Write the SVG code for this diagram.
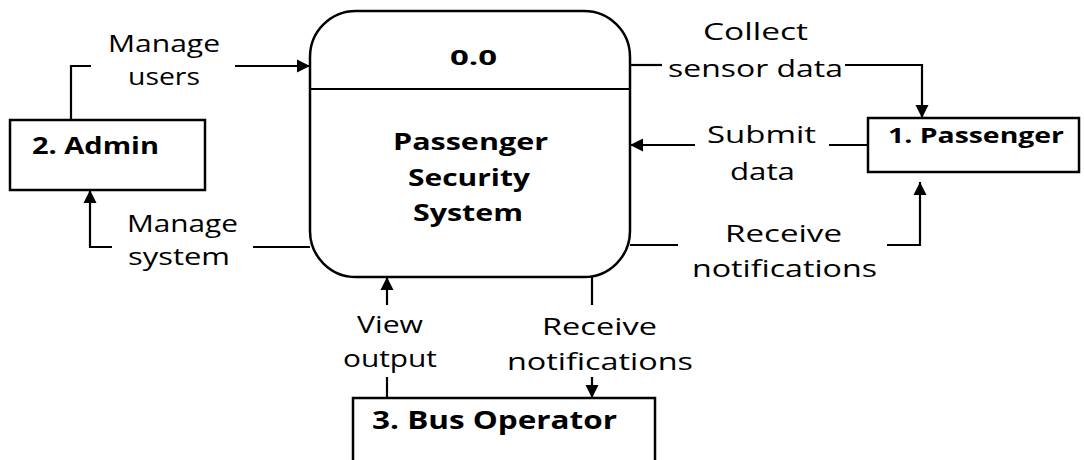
<svg xmlns="http://www.w3.org/2000/svg" width="1084" height="460" viewBox="0 0 1084 460">
  <style>
    .box { fill: #fff; stroke: #000; stroke-width: 2.5; }
    .flow { fill: none; stroke: #000; stroke-width: 2.2; }
    .lbl { font-family: "Open Sans", "DejaVu Sans", sans-serif; font-size: 24px; fill: #000; text-anchor: start; }
    .ttl { font-family: "Open Sans", "DejaVu Sans", sans-serif; font-weight: bold; fill: #000; }
  </style>
  <defs>
    <marker id="arrow" viewBox="0 0 10 10" refX="10" refY="5" markerWidth="6" markerHeight="6" markerUnits="strokeWidth" orient="auto">
      <path d="M0,0 L10,5 L0,10 Z" fill="#000"/>
    </marker>
  </defs>
  <rect width="1084" height="460" fill="#fff"/>

  <!-- Central process -->
  <g id="process">
    <rect class="box" x="310" y="11" width="320" height="266" rx="46" ry="46"/>
    <line x1="310" y1="89" x2="630" y2="89" stroke="#000" stroke-width="2"/>
    <text class="ttl" font-size="22" x="450" y="65" textLength="47" lengthAdjust="spacingAndGlyphs">0.0</text>
    <text class="ttl" font-size="22.5" x="393" y="150" textLength="155" lengthAdjust="spacingAndGlyphs">Passenger</text>
    <text class="ttl" font-size="22.5" x="408" y="186" textLength="122" lengthAdjust="spacingAndGlyphs">Security</text>
    <text class="ttl" font-size="22.5" x="413" y="221" textLength="110" lengthAdjust="spacingAndGlyphs">System</text>
  </g>

  <!-- External entities -->
  <g id="admin">
    <rect class="box" x="10" y="120" width="195" height="70"/>
    <text class="ttl" font-size="23" x="32" y="154" textLength="127" lengthAdjust="spacingAndGlyphs">2. Admin</text>
  </g>
  <g id="passenger">
    <rect class="box" x="868" y="118" width="211" height="54"/>
    <text class="ttl" font-size="20.5" x="888" y="143" textLength="176" lengthAdjust="spacingAndGlyphs">1. Passenger</text>
  </g>
  <g id="bus-operator">
    <rect class="box" x="353" y="398" width="302" height="70"/>
    <text class="ttl" font-size="25" x="372" y="429" textLength="245" lengthAdjust="spacingAndGlyphs">3. Bus Operator</text>
  </g>

  <!-- Data flows -->
  <g id="connectors">
    <!-- Manage users -->
    <polyline class="flow" points="71,120 71,66 91,66"/>
    <line class="flow" x1="235" y1="66" x2="310" y2="66" marker-end="url(#arrow)"/>
    <!-- Manage system -->
    <line class="flow" x1="310" y1="247" x2="253" y2="247"/>
    <polyline class="flow" points="112,247 90,247 90,190" marker-end="url(#arrow)"/>
    <!-- Collect sensor data -->
    <line class="flow" x1="630" y1="65" x2="662" y2="65"/>
    <polyline class="flow" points="845,65 922,65 922,118" marker-end="url(#arrow)"/>
    <!-- Submit data -->
    <line class="flow" x1="868" y1="145" x2="829" y2="145"/>
    <line class="flow" x1="695" y1="145" x2="630" y2="145" marker-end="url(#arrow)"/>
    <!-- Receive notifications (passenger) -->
    <line class="flow" x1="630" y1="245" x2="678" y2="245"/>
    <polyline class="flow" points="887,245 920,245 920,182" marker-end="url(#arrow)"/>
    <!-- View output -->
    <line class="flow" x1="387" y1="305" x2="387" y2="277" marker-end="url(#arrow)"/>
    <line class="flow" x1="387" y1="377" x2="387" y2="398"/>
    <!-- Receive notifications (bus operator) -->
    <line class="flow" x1="592" y1="277" x2="592" y2="305"/>
    <line class="flow" x1="592" y1="377" x2="592" y2="398" marker-end="url(#arrow)"/>
  </g>

  <!-- Flow labels -->
  <g id="labels">
    <text class="lbl" x="108" y="52" textLength="112" lengthAdjust="spacingAndGlyphs">Manage</text>
    <text class="lbl" x="128" y="85" textLength="72" lengthAdjust="spacingAndGlyphs">users</text>
    <text class="lbl" x="127" y="232" textLength="111" lengthAdjust="spacingAndGlyphs">Manage</text>
    <text class="lbl" x="128" y="265" textLength="102" lengthAdjust="spacingAndGlyphs">system</text>
    <text class="lbl" x="703" y="40" textLength="105" lengthAdjust="spacingAndGlyphs">Collect</text>
    <text class="lbl" x="668" y="77" textLength="175" lengthAdjust="spacingAndGlyphs">sensor data</text>
    <text class="lbl" x="707" y="143" textLength="109" lengthAdjust="spacingAndGlyphs">Submit</text>
    <text class="lbl" x="730" y="180" textLength="65" lengthAdjust="spacingAndGlyphs">data</text>
    <text class="lbl" x="725" y="242" textLength="117" lengthAdjust="spacingAndGlyphs">Receive</text>
    <text class="lbl" x="692" y="277" textLength="185" lengthAdjust="spacingAndGlyphs">notifications</text>
    <text class="lbl" x="357" y="333" textLength="66" lengthAdjust="spacingAndGlyphs">View</text>
    <text class="lbl" x="343" y="367" textLength="94" lengthAdjust="spacingAndGlyphs">output</text>
    <text class="lbl" x="542" y="335" textLength="115" lengthAdjust="spacingAndGlyphs">Receive</text>
    <text class="lbl" x="507" y="370" textLength="186" lengthAdjust="spacingAndGlyphs">notifications</text>
  </g>
</svg>
